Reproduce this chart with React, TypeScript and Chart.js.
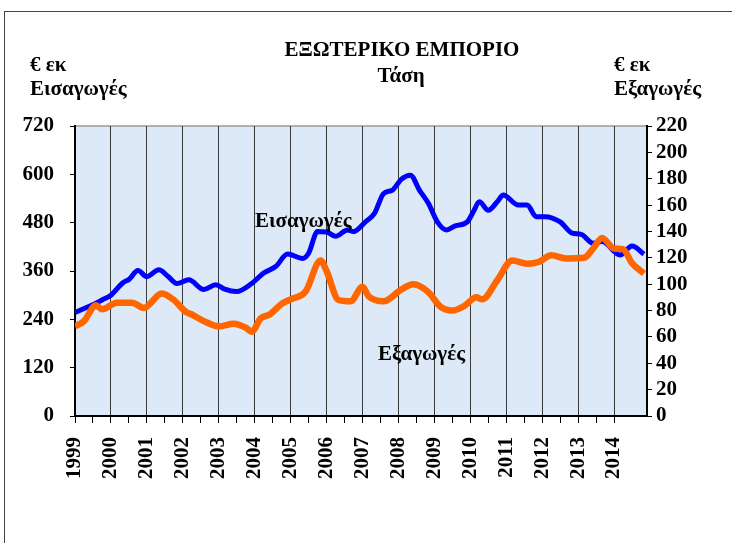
import React, { useEffect, useRef } from "react";
import { Chart, registerables } from "chart.js";

Chart.register(...registerables);

const years = ["1999","2000","2001","2002","2003","2004","2005","2006","2007","2008","2009","2010","2011","2012","2013","2014"];

// month index from Jan 1999
const importMonths = [0,4,6,9,12,16,18,21,24,28,31,34,38,43,47,50,54,59,63,67,71,76,78,81,84,87,91,93,97,100,103,106,109,112,115,118,121,124,127,131,133,135,138,141,143,148,151,154,157,162,166,169,173,176,182,186,190];
const importValues = [257,270,276,288,300,331,339,361,346,363,347,329,338,314,326,315,309,329,355,371,402,391,404,458,457,446,462,458,482,503,552,561,588,598,561,528,482,462,472,482,507,532,511,532,549,524,524,495,495,482,454,451,429,433,400,422,402];

const exportMonths = [0,3,7,9,14,19,23,29,33,37,39,43,48,53,57,59,62,65,69,72,77,82,84,88,92,96,98,103,109,113,118,122,126,130,134,136,141,146,151,155,159,164,170,173,176,180,183,186,190];
const exportValues = [68,72,84,81,86,86,82,93,88,79,77,72,68,70,67,64,74,77,85,88.5,94.5,118,110,88,87,98,91,87,96,100,94,83,80,83.5,90,88.5,103,118,115.5,117,122,119.5,120,127,135,127,126.5,116,108];

const leftTicks = [0,120,240,360,480,600,720];
const rightTicks = [0,20,40,60,80,100,120,140,160,180,200,220];

const FONT = "'Liberation Serif', 'Times New Roman', serif";

const bgPlugin = {
  id: "plotBg",
  beforeDraw(chart: any) {
    const { ctx, chartArea } = chart;
    if (!chartArea) return;
    ctx.save();
    ctx.fillStyle = "#dde9f6";
    ctx.fillRect(chartArea.left, chartArea.top, chartArea.right - chartArea.left, chartArea.bottom - chartArea.top);
    ctx.strokeStyle = "#9a9a9a";
    ctx.lineWidth = 1.5;
    ctx.beginPath();
    ctx.moveTo(chartArea.left, chartArea.top);
    ctx.lineTo(chartArea.right, chartArea.top);
    ctx.stroke();
    ctx.restore();
  },
};

export default function App() {
  const ref = useRef<HTMLCanvasElement>(null);

  useEffect(() => {
    if (!ref.current) return;
    const chart = new Chart(ref.current, {
      type: "line",
      data: {
        datasets: [
          {
            label: "Εξαγωγές",
            data: exportMonths.map((m, i) => ({ x: m, y: exportValues[i] })),
            yAxisID: "y1",
            borderColor: "#ff6600",
            borderWidth: 6.5,
            pointRadius: 0,
            cubicInterpolationMode: "monotone",
            order: 0,
          },
          {
            label: "Εισαγωγές",
            data: importMonths.map((m, i) => ({ x: m, y: importValues[i] })),
            yAxisID: "y",
            borderColor: "#0000ff",
            borderWidth: 5,
            pointRadius: 0,
            cubicInterpolationMode: "monotone",
            order: 1,
          },
        ],
      },
      options: {
        animation: false,
        responsive: false,
        layout: { padding: { top: 126, left: 0, right: 0, bottom: 0 } },
        plugins: { legend: { display: false }, tooltip: { enabled: false }, title: { display: false } },
        scales: {
          x: {
            type: "linear",
            min: 0,
            max: 191,
            afterBuildTicks: (s: any) => {
              s.ticks = s.ticks.filter((t: any) => t.value % 6 === 0 && t.value <= 186);
            },
            afterFit: (s: any) => {
              s.height = 127;
            },
            ticks: {
              stepSize: 6,
              autoSkip: false,
              minRotation: 90,
              maxRotation: 90,
              padding: 14,
              color: "#000",
              font: { family: FONT, size: 21, weight: "bold" },
              callback: (v: any) => (v % 12 === 0 ? years[v / 12] : ""),
            },
            grid: {
              color: (c: any) => (c.tick && c.tick.value % 12 === 0 && c.tick.value > 0 ? "#3a3a3a" : "rgba(0,0,0,0)"),
              lineWidth: 1,
              tickLength: 7,
              tickColor: "#000",
            },
            border: { color: "#000", width: 2 },
          },
          y: {
            position: "left",
            min: 0,
            max: 720,
            afterBuildTicks: (s: any) => {
              s.ticks = leftTicks.map((v) => ({ value: v }));
            },
            afterFit: (s: any) => {
              s.width = 75;
            },
            ticks: {
              autoSkip: false,
              padding: 16,
              color: "#000",
              font: { family: FONT, size: 21, weight: "bold" },
            },
            grid: { drawOnChartArea: false, tickLength: 5, tickColor: "#000" },
            border: { color: "#000", width: 2 },
          },
          y1: {
            position: "right",
            min: 0,
            max: 220,
            afterBuildTicks: (s: any) => {
              s.ticks = rightTicks.map((v) => ({ value: v }));
            },
            afterFit: (s: any) => {
              s.width = 85;
            },
            ticks: {
              autoSkip: false,
              padding: 4,
              color: "#000",
              font: { family: FONT, size: 21, weight: "bold" },
            },
            grid: { drawOnChartArea: false, tickLength: 5, tickColor: "#000" },
            border: { color: "#000", width: 2 },
          },
        },
      },
      plugins: [bgPlugin],
    });
    return () => chart.destroy();
  }, []);

  const txt: React.CSSProperties = {
    position: "absolute",
    fontFamily: FONT,
    fontWeight: "bold",
    fontSize: 21,
    lineHeight: "21px",
    color: "#000",
    whiteSpace: "nowrap",
  };

  return (
    <div style={{ position: "fixed", left: 0, top: 0, width: 732, height: 543, background: "#fff", overflow: "hidden" }}>
      <div style={{ position: "absolute", left: 4, top: 11, width: 800, height: 600, borderLeft: "1.5px solid #444", borderTop: "1.5px solid #444" }} />
      <canvas ref={ref} width={732} height={543} style={{ position: "absolute", left: 0, top: 0 }} />
      <div style={{ ...txt, left: 202, width: 400, textAlign: "center", top: 39 }}>ΕΞΩΤΕΡΙΚΟ ΕΜΠΟΡΙΟ</div>
      <div style={{ ...txt, left: 201, width: 400, textAlign: "center", top: 65 }}>Τάση</div>
      <div style={{ ...txt, left: 30, top: 54 }}>€ εκ</div>
      <div style={{ ...txt, left: 30, top: 78 }}>Εισαγωγές</div>
      <div style={{ ...txt, left: 614, top: 54 }}>€ εκ</div>
      <div style={{ ...txt, left: 614, top: 78 }}>Εξαγωγές</div>
      <div style={{ ...txt, left: 255, top: 210 }}>Εισαγωγές</div>
      <div style={{ ...txt, left: 378, top: 343 }}>Εξαγωγές</div>
    </div>
  );
}
